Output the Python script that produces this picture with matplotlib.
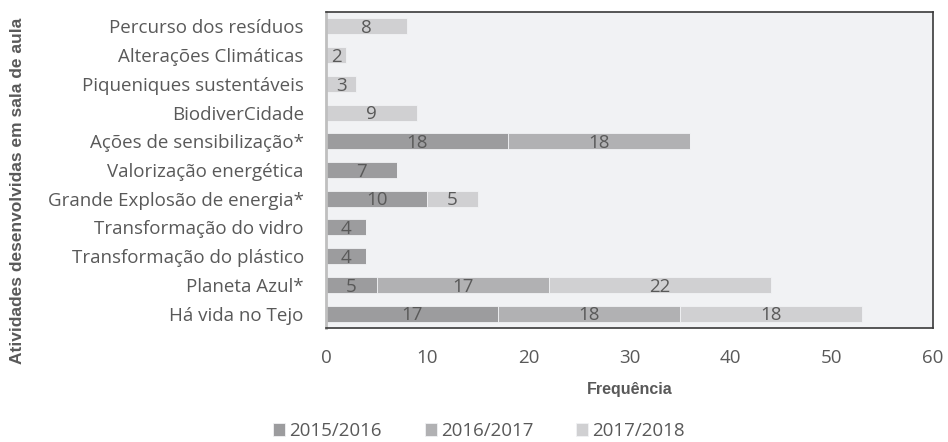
import matplotlib
matplotlib.use("Agg")
import matplotlib.pyplot as plt
import numpy as np

categories = ["Percurso dos resíduos", "Alterações Climáticas", "Piqueniques sustentáveis",
              "BiodiverCidade", "Ações de sensibilização*", "Valorização energética",
              "Grande Explosão de energia*", "Transformação do vidro",
              "Transformação do plástico", "Planeta Azul*", "Há vida no Tejo"]
series_names = ["2015/2016", "2016/2017", "2017/2018"]
v2015 = [0, 0, 0, 0, 18, 7, 10, 4, 4, 5, 17]
v2016 = [0, 0, 0, 0, 18, 0, 0, 0, 0, 17, 18]
v2017 = [8, 2, 3, 9, 0, 0, 5, 0, 0, 22, 18]
colors = ["#9c9c9e", "#b1b1b3", "#d0d0d2"]
xticks = [0, 10, 20, 30, 40, 50, 60]

plt.rcParams['font.family'] = ['Open Sans', 'DejaVu Sans']
txt = "#595959"
fs = 13.5

fig = plt.figure(figsize=(9.48, 4.42), dpi=100)
ax = fig.add_axes([326/948, 1 - 328/442, (933-326)/948, (328-12)/442])
ax.set_facecolor("#f1f2f4")

y = np.arange(len(categories))[::-1]
left = np.zeros(len(categories))
for name, vals, c in zip(series_names, [v2015, v2016, v2017], colors):
    vals = np.array(vals, dtype=float)
    bars = ax.barh(y, vals, left=left, height=0.56, color=c, label=name,
                   edgecolor="#f1f2f4", linewidth=0.6)
    for b, v in zip(bars, vals):
        if v > 0:
            ax.text(b.get_x() + b.get_width()/2, b.get_y() + b.get_height()/2 - 0.06,
                    f"{int(v)}", ha="center", va="center", fontsize=fs, color=txt)
    left += vals

ax.set_xlim(0, 60)
ax.set_ylim(-0.5, len(categories) - 0.5)
ax.set_yticks(y)
ax.set_yticklabels(categories, fontsize=fs, color=txt)
ax.set_xticks(xticks)
ax.set_xticklabels([str(t) for t in xticks], fontsize=fs, color=txt)
ax.tick_params(axis="both", length=0)
ax.tick_params(axis="x", pad=15)
ax.tick_params(axis="y", pad=16)
for s in ax.spines.values():
    s.set_color("#3a3a3a")
    s.set_linewidth(1.2)
ax.spines["left"].set_color("#bfbfbf")
ax.spines["left"].set_linewidth(2)

ax.set_xlabel("Frequência", fontsize=11.5, fontweight="bold", color=txt, labelpad=11,
              family=["Liberation Sans", "DejaVu Sans"])
fig.text(18/948, 1 - 191/442, "Atividades desenvolvidas em sala de aula", rotation=90,
         ha="center", va="center", fontsize=12.5, fontweight="bold", color=txt,
         family=["Liberation Sans", "DejaVu Sans"])

fig.legend(loc="center", bbox_to_anchor=(479/948, 1 - 431/442), ncol=3, frameon=False,
           fontsize=fs, handlelength=0.65, handleheight=0.65, handletextpad=0.2,
           columnspacing=2.3, labelcolor=txt)

fig.savefig("out.png", dpi=100)
